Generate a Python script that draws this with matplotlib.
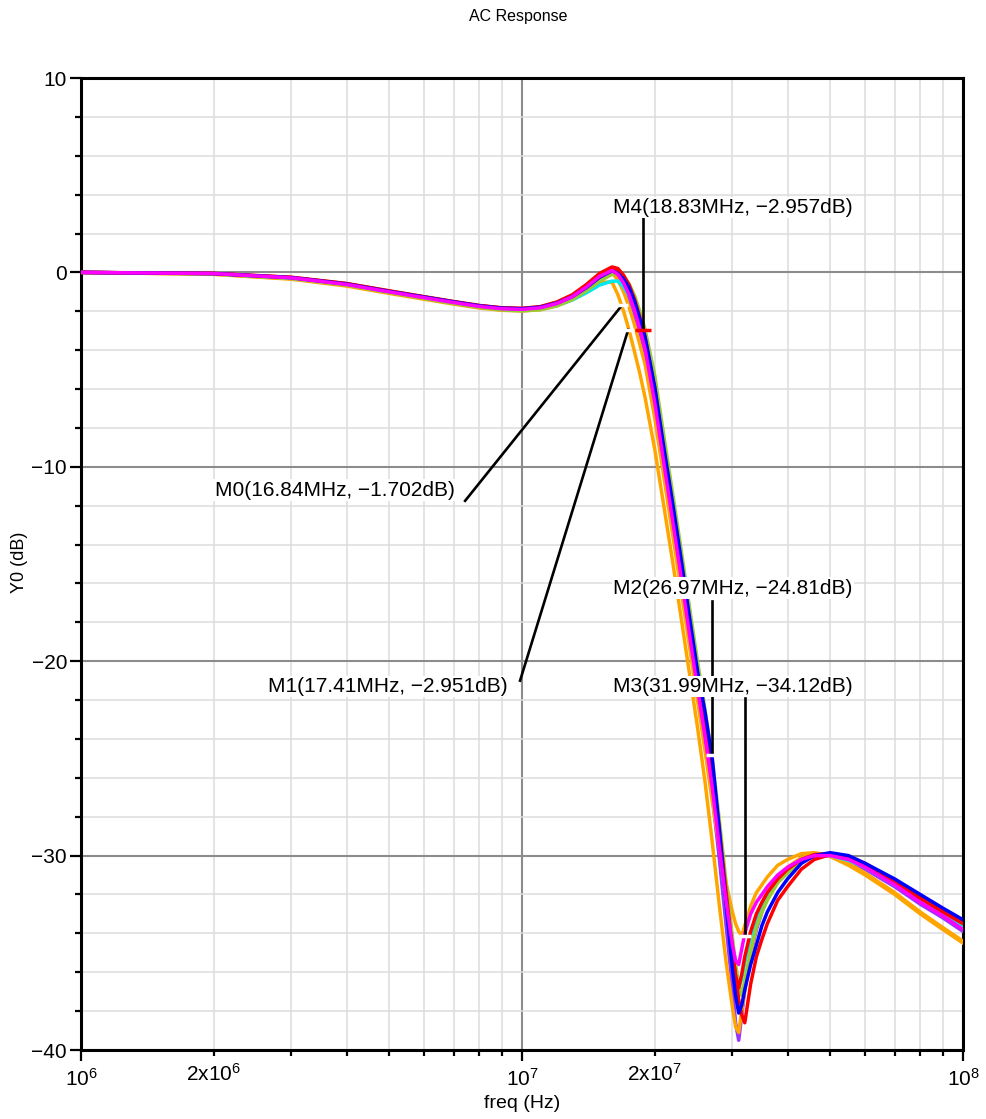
import numpy as np
import matplotlib
matplotlib.use("Agg")
import matplotlib.pyplot as plt
from matplotlib.ticker import LogLocator, MultipleLocator, FuncFormatter, NullFormatter

plt.rcParams['font.family'] = ['Liberation Sans', 'DejaVu Sans']
plt.rcParams['mathtext.fontset'] = 'custom'
plt.rcParams['mathtext.rm'] = 'Liberation Sans'
plt.rcParams['mathtext.it'] = 'Liberation Sans'

# frequency grid of the sweep (MHz)
freq_mhz = [1, 2, 3, 4, 5, 6, 7, 8, 9, 10,
            11, 12, 13, 14, 15, 16, 16.5, 17, 17.5, 18, 18.5, 19,
            20, 21, 22, 23, 24, 25, 26, 27, 28, 29, 30,
            30.5, 31, 31.5, 32, 33, 34, 35, 36,
            38, 40, 43, 46, 50, 55, 60, 70, 80, 90, 100]

# Y0 (dB) for each monte carlo run
y_purple = [0, -0.07, -0.29, -0.62, -1.0, -1.3, -1.55, -1.75, -1.87, -1.9,
            -1.83, -1.62, -1.3, -0.85, -0.35, -0.05, -0.25, -0.7, -1.35, -2.2, -3.1, -4.1,
            -6.9, -10.1, -13.1, -16.0, -18.9, -21.6, -24.2, -26.9, -30.1, -33.5, -36.8,
            -38.6, -39.5, -38.2, -36.9, -35.1, -33.8, -32.9, -32.2,
            -31.3, -30.7, -30.2, -30.0, -30.0, -30.3, -30.7, -31.6, -32.5, -33.2, -33.9]
y_orange_b = [0, -0.1, -0.35, -0.7, -1.08, -1.38, -1.63, -1.83, -1.95, -1.98,
              -1.92, -1.72, -1.4, -0.98, -0.5, -0.5, -1.15, -2.0, -3.0, -4.1, -5.2, -6.4,
              -9.1, -12.1, -15.0, -17.9, -20.7, -23.4, -26.2, -29.3, -32.5, -35.4, -37.8,
              -38.8, -39.1, -38.0, -36.9, -35.0, -33.6, -32.7, -32.0,
              -31.1, -30.6, -30.1, -29.95, -30.05, -30.5, -31.0, -32.0, -33.0, -33.8, -34.5]
y_orange_a = [0, -0.09, -0.32, -0.66, -1.04, -1.34, -1.59, -1.79, -1.91, -1.94,
              -1.87, -1.65, -1.3, -0.85, -0.35, 0.0, -0.4, -1.0, -1.8, -2.7, -3.7, -4.7,
              -7.5, -10.6, -13.6, -16.5, -19.3, -22.0, -24.6, -27.2, -29.5, -31.4, -32.9,
              -33.5, -33.9, -34.1, -33.6, -32.6, -31.9, -31.5, -31.1,
              -30.5, -30.2, -29.9, -29.85, -30.0, -30.4, -30.9, -31.9, -32.9, -33.7, -34.4]
y_cyan = [0, -0.07, -0.3, -0.63, -1.01, -1.31, -1.57, -1.77, -1.9, -1.94,
          -1.88, -1.7, -1.42, -1.05, -0.65, -0.45, -0.45, -0.75, -1.2, -1.9, -2.8, -3.8,
          -6.5, -9.6, -12.6, -15.5, -18.4, -21.1, -23.6, -26.2, -29.3, -32.4, -35.0,
          -36.2, -36.9, -36.3, -35.5, -34.2, -33.2, -32.5, -32.0,
          -31.2, -30.7, -30.2, -30.0, -30.0, -30.25, -30.6, -31.5, -32.3, -33.0, -33.6]
y_green = [0, -0.07, -0.3, -0.64, -1.03, -1.34, -1.6, -1.8, -1.93, -1.98,
           -1.92, -1.72, -1.4, -0.95, -0.45, -0.1, -0.05, -0.2, -0.6, -1.2, -2.0, -2.9,
           -5.3, -8.5, -11.5, -14.4, -17.3, -20.0, -22.5, -25.0, -28.1, -31.3, -34.2,
           -35.6, -36.6, -37.2, -36.4, -34.9, -33.7, -32.9, -32.3,
           -31.4, -30.9, -30.3, -30.05, -30.0, -30.15, -30.5, -31.3, -32.1, -32.8, -33.5]
y_red_b = [0, -0.06, -0.26, -0.58, -0.96, -1.26, -1.51, -1.71, -1.83, -1.86,
           -1.78, -1.55, -1.2, -0.7, -0.15, 0.2, 0.1, -0.3, -0.85, -1.6, -2.5, -3.5,
           -6.3, -9.5, -12.5, -15.4, -18.3, -21.0, -23.4, -25.9, -29.0, -32.2, -35.0,
           -36.2, -36.8, -36.1, -35.2, -33.9, -33.0, -32.4, -31.9,
           -31.2, -30.7, -30.2, -29.95, -29.9, -30.1, -30.5, -31.4, -32.2, -32.9, -33.5]
y_red_a = [0, -0.05, -0.25, -0.57, -0.95, -1.25, -1.5, -1.7, -1.82, -1.85,
           -1.76, -1.52, -1.15, -0.62, -0.05, 0.28, 0.2, -0.15, -0.65, -1.4, -2.3, -3.3,
           -6.0, -9.3, -12.3, -15.2, -18.1, -20.8, -23.0, -25.4, -28.6, -31.8, -34.8,
           -36.2, -37.4, -38.2, -38.6, -36.6, -35.2, -34.3, -33.5,
           -32.3, -31.6, -30.7, -30.2, -29.95, -30.05, -30.4, -31.3, -32.1, -32.8, -33.4]
y_blue = [0, -0.06, -0.27, -0.6, -0.98, -1.27, -1.52, -1.72, -1.84, -1.87,
          -1.79, -1.58, -1.25, -0.78, -0.25, 0.08, -0.05, -0.35, -0.8, -1.5, -2.4, -3.3,
          -5.9, -9.1, -12.0, -14.9, -17.8, -20.5, -22.6, -25.0, -28.6, -32.4, -35.8,
          -37.2, -38.1, -37.7, -36.9, -35.6, -34.6, -33.6, -32.9,
          -31.9, -31.2, -30.4, -30.0, -29.85, -30.0, -30.4, -31.2, -32.0, -32.7, -33.3]
y_magenta = [0, -0.06, -0.28, -0.62, -1.0, -1.3, -1.55, -1.75, -1.87, -1.9,
             -1.82, -1.6, -1.25, -0.75, -0.2, 0.1, -0.1, -0.55, -1.15, -1.95, -2.9, -3.9,
             -6.7, -9.9, -12.9, -15.8, -18.7, -21.4, -23.9, -26.5, -29.5, -32.3, -34.6,
             -35.4, -35.6, -34.8, -34.0, -33.0, -32.4, -32.0, -31.6,
             -31.0, -30.6, -30.2, -30.0, -30.0, -30.2, -30.6, -31.5, -32.4, -33.1, -33.8]

runs = [(y_purple, '#9933ff'), (y_orange_b, '#ffa500'), (y_orange_a, '#ffa500'),
        (y_cyan, '#00e8f0'), (y_green, '#99cc33'), (y_red_b, '#ff0000'),
        (y_red_a, '#ff0000'), (y_blue, '#0000ff'), (y_magenta, '#ff00ff')]

# markers: name, freq (MHz), value (dB)
mk_names = ['M0', 'M1', 'M2', 'M3', 'M4']
mk_freq = [16.84, 17.41, 26.97, 31.99, 18.83]
mk_db = [-1.702, -2.951, -24.81, -34.12, -2.957]

freq = np.array(freq_mhz) * 1e6

fig = plt.figure(figsize=(9.86, 11.19), dpi=100)
ax = fig.add_axes([81 / 986, 1 - 1050 / 1119, 882 / 986, 972 / 1119])

for y, c in runs:
    ax.plot(freq, y, color=c, lw=2.5, solid_joinstyle='round', zorder=3)

ax.set_xscale('log')
ax.set_xlim(1e6, 1e8)
ax.set_ylim(-40, 10)

ax.xaxis.set_major_locator(LogLocator(base=10))
ax.xaxis.set_minor_locator(LogLocator(base=10, subs=np.arange(2, 10)))
ax.xaxis.set_major_formatter(FuncFormatter(lambda v, p: r'$10^{%d}$' % round(np.log10(v))))


def minor_fmt(v, p):
    e = int(np.floor(np.log10(v) + 1e-9))
    m = v / 10 ** e
    if abs(m - 2) < 1e-6:
        return r'$2\mathrm{x}10^{%d}$' % e
    return ''


ax.xaxis.set_minor_formatter(FuncFormatter(minor_fmt))
ax.yaxis.set_major_locator(MultipleLocator(10))
ax.yaxis.set_minor_locator(MultipleLocator(2))
ax.yaxis.set_minor_formatter(NullFormatter())

ax.grid(which='major', color='#8c8c8c', lw=1.5, zorder=1)
ax.grid(which='minor', color='#dddddd', lw=1.1, zorder=0)
ax.set_axisbelow(True)

for s in ax.spines.values():
    s.set_linewidth(2.2)
    s.set_color('black')

ax.tick_params(which='major', direction='out', length=8, width=1.6, labelsize=15, pad=2)
ax.tick_params(which='minor', direction='out', length=4, width=1.6, labelsize=15, pad=2)
ax.tick_params(axis='x', which='both', pad=5)

# marker callouts: label position (MHz, dB), line start (MHz, dB)
lab_pos = [(2.01, -11.2), (2.655, -21.3), (16.08, -16.25), (16.08, -21.3), (16.08, 3.34)]
line_from = [(7.43, -11.75), (9.9, -21.0), (26.97, -16.9), (31.99, -21.9), (18.83, 2.8)]

for i, name in enumerate(mk_names):
    f0, d0 = mk_freq[i], mk_db[i]
    txt = '%s(%.2fMHz, %sdB)' % (name, f0, ('%.4g' % d0).replace('-', '\u2212'))
    lx, ly = lab_pos[i]
    sx, sy = line_from[i]
    ax.plot([sx * 1e6, f0 * 1e6], [sy, d0], color='black', lw=1.9, zorder=5)
    ax.text(lx * 1e6, ly, txt, fontsize=15, ha='left', va='center', zorder=6,
            bbox=dict(facecolor='white', edgecolor='none', pad=1.0))
    mc = 'red' if name == 'M4' else 'white'
    ax.plot(f0 * 1e6, d0, marker='_', ms=12 if name == 'M4' else 8, mew=2.5, color=mc, zorder=7)

fig.text(518 / 986, 1 - 17 / 1119, 'AC Response', fontsize=11.5, ha='center', va='center')
fig.text(522 / 986, 1 - 1103 / 1119, 'freq (Hz)', fontsize=14, ha='center', va='center')
fig.text(20 / 986, 1 - 562 / 1119, 'Y0 (dB)', fontsize=13, rotation=90, ha='center', va='center')

fig.savefig('out.png', dpi=100, facecolor='white')
